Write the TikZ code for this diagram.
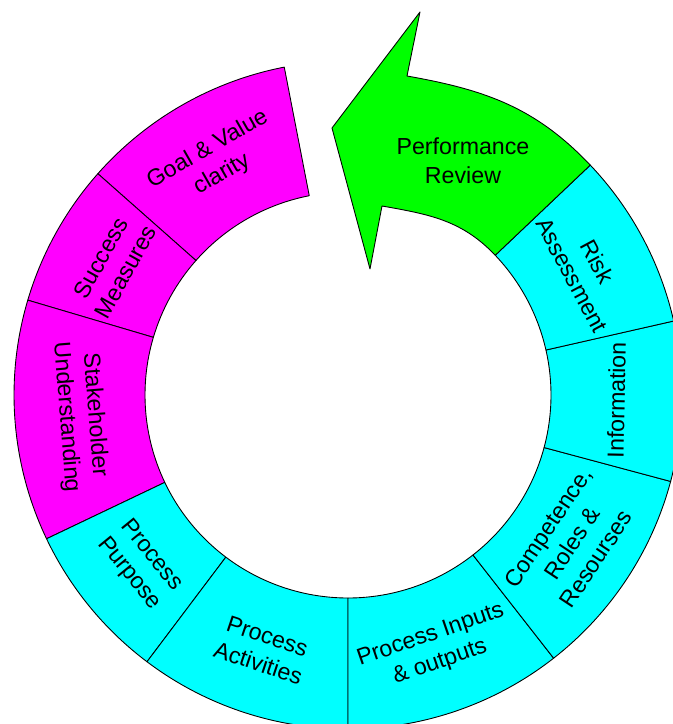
\documentclass[tikz,border=0pt]{standalone}
\usepackage{fontspec}
\setmainfont{Liberation Sans}
\definecolor{ringpink}{RGB}{255,0,255}
\definecolor{ringcyan}{RGB}{0,255,255}
\definecolor{arrowgreen}{RGB}{0,255,0}

\begin{document}
\begin{tikzpicture}[x=0.02cm, y=0.02cm,
    seg/.style={draw=black, line width=0.5pt, line join=round},
    lbl/.style={align=center, inner sep=0pt, font=\fontsize{13.2}{16.3}\selectfont}]
    \useasboundingbox (-348,-329) rectangle (325,395);
    \clip (-348,-329) rectangle (325,395);

    % ring segments: from/to angle, colour, text turn, name, text
    \foreach \a/\b/\c/\o/\n/\t in {
        101/138.5/ringpink/-90/goal/{Goal \& Value\\clarity},
        138.5/163.5/ringpink/-90/success/{Success\\Measures},
        163.5/205.5/ringpink/90/stakeholder/{Stakeholder\\Understanding},
        205.5/233/ringcyan/90/purpose/{Process\\Purpose},
        233/270/ringcyan/90/activities/{Process\\Activities},
        270/308/ringcyan/90/inputs/{Process Inputs\\\& outputs},
        308/345/ringcyan/90/competence/{Competence,\\Roles \&\\Resourses},
        345/372.8/ringcyan/90/information/{Information},
        372.8/403.5/ringcyan/-90/risk/{Risk\\Assessment}}{
        \pgfmathsetmacro\m{(\a+\b)/2}
        \draw[seg, fill=\c] (\a:334) arc[start angle=\a, end angle=\b, radius=334]
            -- (\b:203) arc[start angle=\b, end angle=\a, radius=203] -- cycle;
        \node[lbl, rotate=\m+\o] (\n) at (\m:268.5) {\t};
    }

    % arrow
    \draw[seg, fill=arrowgreen] (43.5:334) to[out=133.5, in=-10] (59,319) -- (72,383)
        -- (-16,267) -- (22,126) -- (34,189) to[out=-10, in=133.5] (43.5:203) -- cycle;
    \node[lbl] (review) at (115,234) {Performance\\Review};
\end{tikzpicture}
\end{document}
